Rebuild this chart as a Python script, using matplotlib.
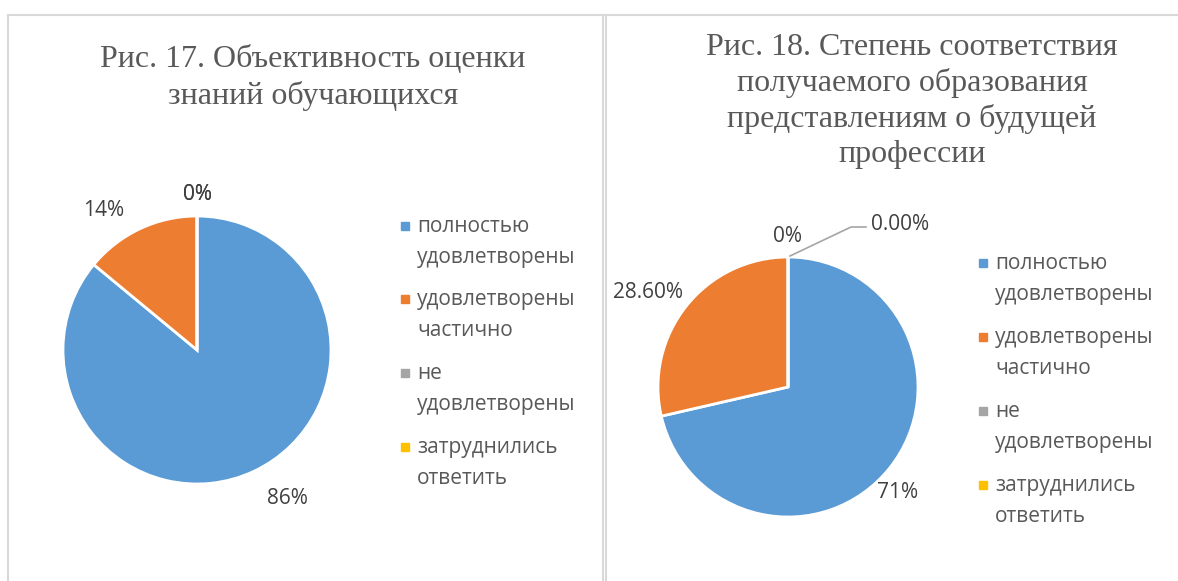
import numpy as np
import matplotlib.pyplot as plt
from matplotlib.patches import Rectangle
from matplotlib.lines import Line2D

W, H = 1178, 581

categories = ["полностью\nудовлетворены", "удовлетворены\nчастично",
              "не\nудовлетворены", "затруднились\nответить"]
colors = ["#5B9BD5", "#ED7D31", "#A5A5A5", "#FFC000"]

title17 = "Рис. 17. Объективность оценки\nзнаний обучающихся"
values17 = [86, 14, 0, 0]
labels17 = ["86%", "14%", "0%", "0%"]

title18 = "Рис. 18. Степень соответствия\nполучаемого образования\nпредставлениям о будущей\nпрофессии"
values18 = [71.4, 28.6, 0, 0]
labels18 = ["71%", "28.60%", "0%", "0.00%"]

TEXT = "#404040"
SANS = ["Open Sans", "DejaVu Sans"]
SERIF = ["Liberation Serif", "DejaVu Serif"]


def fx(x):
    return x / W


def fy(y):
    return 1 - y / H


fig = plt.figure(figsize=(W / 100, H / 100), dpi=100)

# panel frames
for (x0, y0, x1, y1) in [(8, 15, 8, 581), (8, 15, 1178, 15), (603, 15, 603, 581), (606, 15, 606, 581)]:
    fig.add_artist(Line2D([fx(x0), fx(x1)], [fy(y0), fy(y1)], color="#D9D9D9", lw=1.5))


def draw_pie(cx, cy, r, values, labels, label_pos):
    ax = fig.add_axes([fx(cx - r), fy(cy + r), 2 * r / W, 2 * r / H])
    ax.pie(values, colors=colors, startangle=90, counterclock=False,
           wedgeprops=dict(edgecolor="white", linewidth=2))
    ax.set_xlim(-1, 1)
    ax.set_ylim(-1, 1)
    ax.axis("off")
    for lab, (px, py) in zip(labels, label_pos):
        fig.text(fx(px), fy(py + 3), lab, ha="center", va="center",
                 fontsize=15, color=TEXT, family=SANS)
    return ax


def draw_legend(x, ys):
    for cat, col, y in zip(categories, colors, ys):
        fig.add_artist(Rectangle((fx(x - 4), fy(y + 4)), 8 / W, 8 / H, color=col))
        fig.text(fx(x + 12), fy(y - 10), cat, ha="left", va="top", fontsize=15,
                 color="#595959", family=SANS, linespacing=1.65)


# Рис. 17
fig.text(fx(313), fy(78), title17, ha="center", va="center", fontsize=23,
         color="#595959", family=SERIF, linespacing=1.33)
draw_pie(197, 350, 134, values17, labels17,
         [(287, 496), (104, 207), (197, 192), (197, 192)])
draw_legend(405, [226, 299, 373, 447])

# Рис. 18
fig.text(fx(912), fy(101), title18, ha="center", va="center", fontsize=23,
         color="#595959", family=SERIF, linespacing=1.27)
draw_pie(788, 387, 130, values18, labels18,
         [(898, 489), (648, 290), (788, 234), (900, 221)])
fig.add_artist(Line2D([fx(790), fx(851), fx(866)], [fy(256), fy(227), fy(227)],
                      color="#A5A5A5", lw=1.2))
draw_legend(983, [263, 337, 411, 485])

fig.savefig("out.png", dpi=100)
